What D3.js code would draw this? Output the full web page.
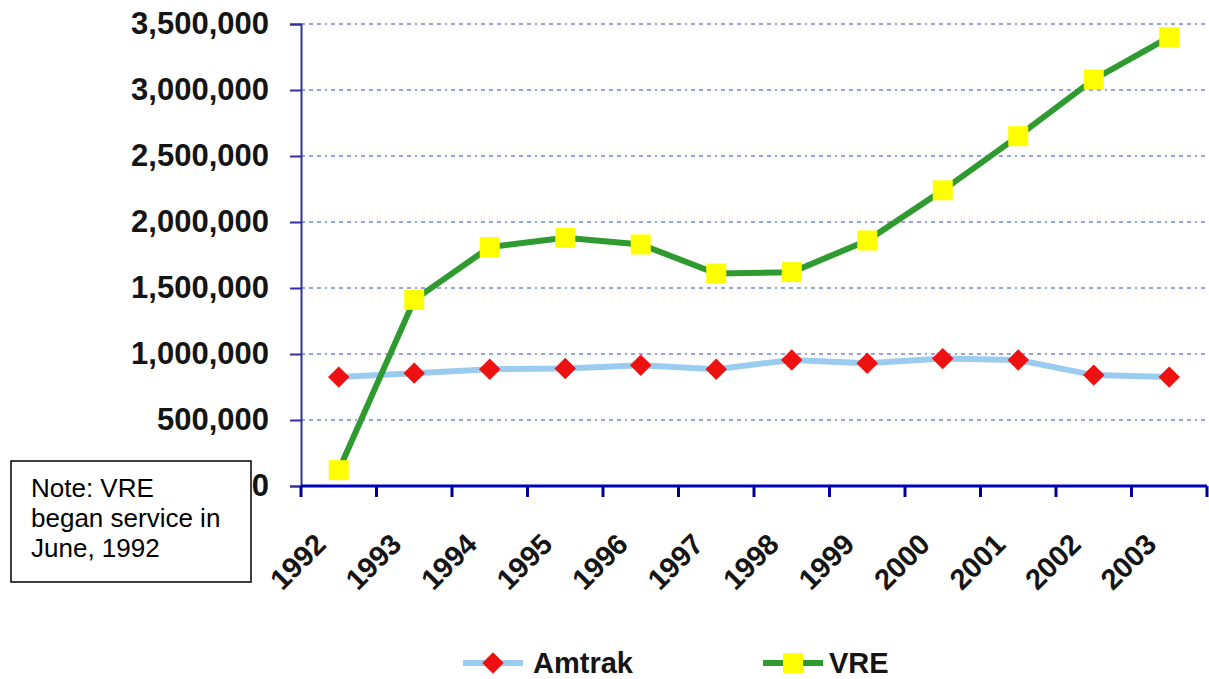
<!DOCTYPE html>
<html>
<head>
<meta charset="utf-8">
<script src="https://cdn.jsdelivr.net/npm/d3@7"></script>
<style>
  body { margin: 0; background: #fff; }
  text { font-family: Arial, "Liberation Sans", sans-serif; }
</style>
</head>
<body>
<div id="chart-area"></div>
<script>
// data
var years = ["1992","1993","1994","1995","1996","1997","1998","1999","2000","2001","2002","2003"];
var amtrak = [825000, 855000, 885000, 890000, 915000, 885000, 955000, 930000, 965000, 955000, 840000, 825000];
var vre = [120000, 1410000, 1810000, 1880000, 1830000, 1610000, 1620000, 1860000, 2240000, 2650000, 3080000, 3400000];
var yTicks = [0, 500000, 1000000, 1500000, 2000000, 2500000, 3000000, 3500000];
var noteLines = ["Note: VRE", "began service in", "June, 1992"];

var width = 1209, height = 679;

var svg = d3.select("#chart-area")
    .append("svg")
    .attr("width", width)
    .attr("height", height);

var x = d3.scaleBand()
    .domain(years)
    .range([301, 1207]);

var y = d3.scaleLinear()
    .domain([0, 3500000])
    .range([486, 24]);

var cx = function(d, i){ return x(years[i]) + x.bandwidth() / 2; };

// gridlines
svg.append("g")
  .selectAll("line")
  .data(yTicks.slice(1))
  .enter()
  .append("line")
    .attr("x1", 301)
    .attr("x2", 1205)
    .attr("y1", function(d){ return y(d); })
    .attr("y2", function(d){ return y(d); })
    .attr("stroke", "#3848c0")
    .attr("stroke-width", 1.2)
    .attr("stroke-dasharray", "4,4,4,4,4,4,2,4");

// y axis
var yAxisCall = d3.axisLeft(y)
    .tickValues(yTicks)
    .tickSize(11)
    .tickPadding(21)
    .tickFormat(d3.format(","));

var yAxisGroup = svg.append("g")
    .attr("transform", "translate(301,0)")
    .call(yAxisCall);

yAxisGroup.select(".domain")
    .attr("stroke", "#3030a0")
    .attr("stroke-width", 2);
yAxisGroup.selectAll(".tick line")
    .attr("stroke", "#3030a0")
    .attr("stroke-width", 2);
yAxisGroup.selectAll(".tick text")
    .attr("font-size", "31px")
    .attr("font-weight", "bold")
    .attr("fill", "#151515")
    .attr("font-family", "Arial, 'Liberation Sans', sans-serif");

// x axis
var xAxisGroup = svg.append("g")
    .attr("transform", "translate(0,486)");

xAxisGroup.append("line")
    .attr("x1", 301)
    .attr("x2", 1207)
    .attr("y1", 0)
    .attr("y2", 0)
    .attr("stroke", "#0000cc")
    .attr("stroke-width", 3);

xAxisGroup.selectAll(".xtick")
  .data(years.concat(["end"]))
  .enter()
  .append("line")
    .attr("class", "xtick")
    .attr("x1", function(d, i){ return i < years.length ? x(d) : x.range()[1]; })
    .attr("x2", function(d, i){ return i < years.length ? x(d) : x.range()[1]; })
    .attr("y1", 0)
    .attr("y2", 11)
    .attr("stroke", "#000099")
    .attr("stroke-width", 3);

xAxisGroup.selectAll(".xlabel")
  .data(years)
  .enter()
  .append("text")
    .attr("class", "xlabel")
    .attr("text-anchor", "end")
    .attr("font-size", "29px")
    .attr("font-weight", "bold")
    .attr("fill", "#151515")
    .attr("transform", function(d, i){
      return "translate(" + (cx(d, i) - 11) + ",60) rotate(-45)";
    })
    .text(function(d){ return d; });

// lines
var seriesLine = d3.line()
    .x(cx)
    .y(function(d){ return y(d); });

svg.append("path")
    .datum(amtrak)
    .attr("d", seriesLine)
    .attr("fill", "none")
    .attr("stroke", "#9ccbf0")
    .attr("stroke-width", 6);

svg.append("path")
    .datum(vre)
    .attr("d", seriesLine)
    .attr("fill", "none")
    .attr("stroke", "#2f9a2f")
    .attr("stroke-width", 6);

// markers
svg.selectAll(".diamond")
  .data(amtrak)
  .enter()
  .append("path")
    .attr("class", "diamond")
    .attr("d", d3.symbol().type(d3.symbolSquare).size(230))
    .attr("transform", function(d, i){ return "translate(" + cx(d, i) + "," + y(d) + ") rotate(45)"; })
    .attr("fill", "#ee1111");

svg.selectAll(".square")
  .data(vre)
  .enter()
  .append("rect")
    .attr("class", "square")
    .attr("x", function(d, i){ return cx(d, i) - 10; })
    .attr("y", function(d){ return y(d) - 10; })
    .attr("width", 20)
    .attr("height", 20)
    .attr("fill", "#ffff00");

// note box
var note = svg.append("g");
note.append("rect")
    .attr("x", 11)
    .attr("y", 461)
    .attr("width", 240)
    .attr("height", 121)
    .attr("fill", "#fff")
    .attr("stroke", "#000")
    .attr("stroke-width", 1.5);
note.selectAll("text")
  .data(noteLines)
  .enter()
  .append("text")
    .attr("x", 31)
    .attr("y", function(d, i){ return 497 + i * 30; })
    .attr("font-size", "26px")
    .attr("fill", "#000")
    .text(function(d){ return d; });

// legend
var legend = svg.append("g").attr("transform", "translate(0,663)");

legend.append("line")
    .attr("x1", 463).attr("x2", 523)
    .attr("stroke", "#9ccbf0").attr("stroke-width", 6);
legend.append("path")
    .attr("d", d3.symbol().type(d3.symbolSquare).size(230))
    .attr("transform", "translate(493,0) rotate(45)")
    .attr("fill", "#ee1111");
legend.append("text")
    .attr("x", 533).attr("y", 10)
    .attr("font-size", "29px").attr("font-weight", "bold").attr("fill", "#151515")
    .text("Amtrak");

legend.append("line")
    .attr("x1", 763).attr("x2", 823)
    .attr("stroke", "#2f9a2f").attr("stroke-width", 6);
legend.append("rect")
    .attr("x", 783).attr("y", -10)
    .attr("width", 20).attr("height", 20)
    .attr("fill", "#ffff00");
legend.append("text")
    .attr("x", 829).attr("y", 10)
    .attr("font-size", "29px").attr("font-weight", "bold").attr("fill", "#151515")
    .text("VRE");
</script>
</body>
</html>
